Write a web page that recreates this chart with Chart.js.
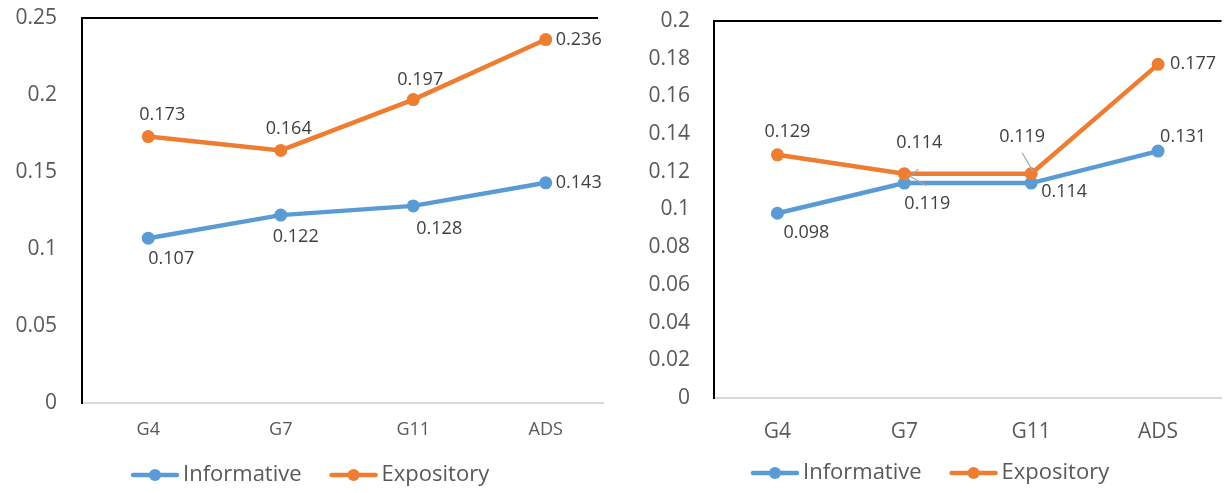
<!DOCTYPE html>
<html>
<head>
<meta charset="utf-8">
<script src="https://cdn.jsdelivr.net/npm/chart.js@4.4.1/dist/chart.umd.min.js"></script>
<style>
  html, body { margin: 0; padding: 0; background: #fff; }
  #page { position: relative; width: 1228px; height: 493px; overflow: hidden; }
  #leftBox { position: absolute; left: 0; top: 0; width: 604px; height: 493px; overflow: hidden; }
  #rightBox { position: absolute; left: 604px; top: 0; width: 624px; height: 493px; }
</style>
</head>
<body>
<div id="page">
  <div id="leftBox"><canvas id="leftChart" width="640" height="493" style="width:640px;height:493px"></canvas></div>
  <div id="rightBox"><canvas id="rightChart" width="624" height="493" style="width:624px;height:493px"></canvas></div>
</div>
<script>
const categories = ['G4', 'G7', 'G11', 'ADS'];
const seriesNames = ['Informative', 'Expository'];

const leftInformative = [0.107, 0.122, 0.128, 0.143];
const leftExpository = [0.173, 0.164, 0.197, 0.236];
const leftTicks = ['0', '0.05', '0.1', '0.15', '0.2', '0.25'];

const rightInformative = [0.098, 0.114, 0.114, 0.131];
const rightExpository = [0.129, 0.119, 0.119, 0.177];
const rightTicks = ['0', '0.02', '0.04', '0.06', '0.08', '0.1', '0.12', '0.14', '0.16', '0.18', '0.2'];

const BLUE = '#5B9BD5';
const ORANGE = '#ED7D31';
const TEXT = '#595959';
const FONT = "'Open Sans', sans-serif";

// value labels next to the points (offsets are in pixels from each point)
const valueLabels = {
  id: 'valueLabels',
  afterDatasetsDraw(chart, args, opts) {
    const ctx = chart.ctx;
    ctx.save();
    ctx.font = opts.size + 'px ' + FONT;
    ctx.fillStyle = '#404040';
    ctx.textAlign = 'center';
    ctx.textBaseline = 'middle';
    chart.data.datasets.forEach((ds, di) => {
      const meta = chart.getDatasetMeta(di);
      meta.data.forEach((pt, i) => {
        const off = opts.offsets[di][i];
        ctx.fillText(ds.data[i].toFixed(3), pt.x + off[0], pt.y + off[1]);
      });
    });
    // leader lines
    ctx.strokeStyle = '#A6A6A6';
    ctx.lineWidth = 1.2;
    (opts.leaders || []).forEach(l => {
      const pt = chart.getDatasetMeta(l.ds).data[l.i];
      ctx.beginPath();
      ctx.moveTo(pt.x + l.from[0], pt.y + l.from[1]);
      ctx.lineTo(pt.x + l.to[0], pt.y + l.to[1]);
      ctx.stroke();
    });
    ctx.restore();
  }
};

// top border of the plot area
const topBorder = {
  id: 'topBorder',
  beforeDatasetsDraw(chart, args, opts) {
    const a = chart.chartArea;
    const ctx = chart.ctx;
    ctx.save();
    ctx.strokeStyle = '#000';
    ctx.lineWidth = 2;
    ctx.beginPath();
    ctx.moveTo(a.left - 1, a.top);
    ctx.lineTo(opts.end || a.right, a.top);
    ctx.stroke();
    ctx.restore();
  }
};

// legend with line + marker symbols
const lineLegend = {
  id: 'lineLegend',
  afterDraw(chart, args, opts) {
    const ctx = chart.ctx;
    ctx.save();
    ctx.font = '22px ' + FONT;
    ctx.textBaseline = 'middle';
    let x = opts.x;
    const y = opts.y;
    chart.data.datasets.forEach(ds => {
      ctx.strokeStyle = ds.borderColor;
      ctx.lineWidth = 4.5;
      ctx.lineCap = 'round';
      ctx.beginPath();
      ctx.moveTo(x + 2, y);
      ctx.lineTo(x + 46, y);
      ctx.stroke();
      ctx.fillStyle = ds.borderColor;
      ctx.beginPath();
      ctx.arc(x + 24, y, 6, 0, Math.PI * 2);
      ctx.fill();
      ctx.fillStyle = TEXT;
      ctx.textAlign = 'left';
      ctx.fillText(ds.label, x + 52, y);
      x += 52 + ctx.measureText(ds.label).width + 28;
    });
    ctx.restore();
  }
};

function makeChart(id, cfg) {
  return new Chart(document.getElementById(id), {
    type: 'line',
    data: {
      labels: categories,
      datasets: [
        {
          label: seriesNames[0],
          data: cfg.informative,
          borderColor: BLUE,
          backgroundColor: BLUE,
          borderWidth: 4.5,
          pointRadius: 6.5,
          pointBorderWidth: 0,
          tension: 0,
          order: 1
        },
        {
          label: seriesNames[1],
          data: cfg.expository,
          borderColor: ORANGE,
          backgroundColor: ORANGE,
          borderWidth: 4.5,
          pointRadius: 6.5,
          pointBorderWidth: 0,
          tension: 0,
          order: 0
        }
      ]
    },
    options: {
      responsive: false,
      animation: false,
      devicePixelRatio: 1,
      layout: { padding: { left: cfg.left, top: cfg.top, right: cfg.right, bottom: 0 } },
      scales: {
        x: {
          offset: true,
          grid: { display: false, drawTicks: false },
          border: { color: '#D9D9D9', width: 2 },
          ticks: { color: TEXT, font: { family: FONT, size: cfg.xFont }, padding: cfg.xPad },
          afterFit(scale) {
            scale.height = cfg.xHeight;
            scale.paddingLeft = 0;
            scale.paddingRight = 0;
          }
        },
        y: {
          min: 0,
          max: cfg.max,
          grid: { display: false, drawTicks: false },
          border: { color: '#000', width: 2 },
          ticks: {
            stepSize: cfg.step,
            color: TEXT,
            font: { family: FONT, size: 21 },
            padding: cfg.yPad,
            callback: (v, i) => cfg.ticks[i]
          },
          afterFit(scale) {
            scale.width = cfg.yWidth;
            scale.paddingTop = 0;
            scale.paddingBottom = 0;
          }
        }
      },
      plugins: {
        legend: { display: false },
        tooltip: { enabled: false },
        topBorder: { end: cfg.topEnd },
        valueLabels: { size: 18, offsets: cfg.offsets, leaders: cfg.leaders },
        lineLegend: { x: cfg.legendX, y: cfg.legendY }
      }
    },
    plugins: [topBorder, valueLabels, lineLegend]
  });
}

makeChart('leftChart', {
  informative: leftInformative,
  expository: leftExpository,
  ticks: leftTicks,
  max: 0.25,
  step: 0.05,
  left: 0,
  top: 18,
  right: 28,
  topEnd: 598,
  yWidth: 82,
  yPad: 25,
  xHeight: 90,
  xFont: 18,
  xPad: 16,
  legendX: 131,
  legendY: 475,
  offsets: [
    [[23, 21], [15, 22], [26, 23], [33, 0]],
    [[14, -22], [8, -22], [7, -20], [33, 0]]
  ],
  leaders: []
});

makeChart('rightChart', {
  informative: rightInformative,
  expository: rightExpository,
  ticks: rightTicks,
  max: 0.2,
  step: 0.02,
  left: 0,
  top: 21,
  right: 1,
  topEnd: null,
  yWidth: 110,
  yPad: 24,
  xHeight: 95,
  xFont: 21,
  xPad: 21,
  legendX: 147,
  legendY: 473,
  offsets: [
    [[29, 20], [15, -40], [33, 9], [25, -14]],
    [[10, -23], [23, 30], [-9, -37], [35, 0]]
  ],
  leaders: [
    { ds: 0, i: 1, from: [14, -14], to: [2, -3] },
    { ds: 1, i: 1, from: [3, 1], to: [22, 12] },
    { ds: 1, i: 2, from: [-9, -21], to: [2, -2] }
  ]
});
</script>
</body>
</html>
